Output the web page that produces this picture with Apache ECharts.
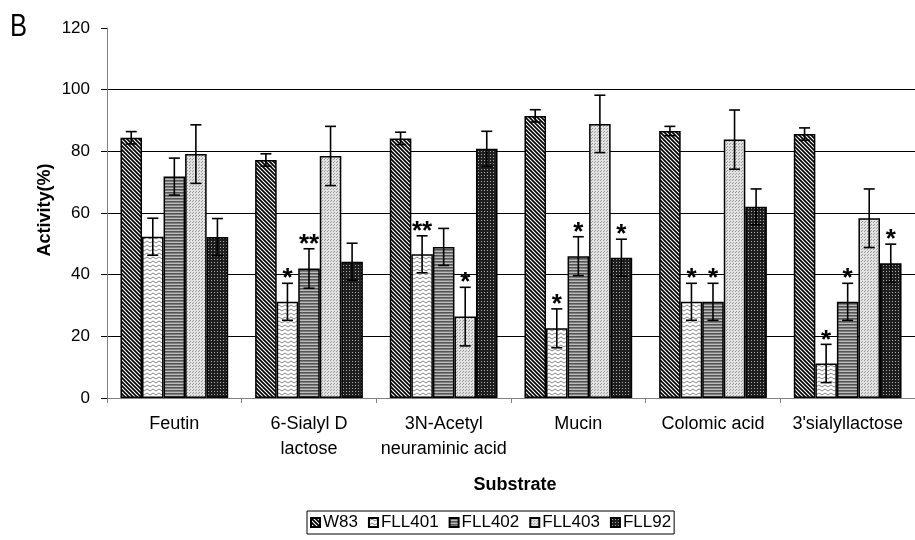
<!DOCTYPE html>
<html><head><meta charset="utf-8">
<script src="https://cdn.jsdelivr.net/npm/echarts@6/dist/echarts.min.js"></script>
<style>html,body{margin:0;padding:0;background:#fff}#c{width:915px;height:540px}</style>
</head><body><div id="c"></div>
<script>
const categories = ['Feutin', '6-Sialyl D\nlactose', '3N-Acetyl\nneuraminic acid', 'Mucin', 'Colomic acid', "3'sialyllactose"];
const seriesNames = ['W83', 'FLL401', 'FLL402', 'FLL403', 'FLL92'];
const W83 = [84.4, 77.2, 84.2, 91.5, 86.6, 85.6];
const FLL401 = [52.3, 31.2, 46.6, 22.6, 31.2, 11.2];
const FLL402 = [71.8, 42.0, 49.0, 46.0, 31.2, 31.2];
const FLL403 = [79.1, 78.5, 26.4, 88.9, 83.8, 58.3];
const FLL92 = [52.2, 44.2, 80.8, 45.5, 62.0, 43.7];
const errW83 = [2, 2, 2, 2, 1.5, 2];
const errFLL401 = [6, 6, 6, 6.3, 6, 6.2];
const errFLL402 = [6, 6.4, 6, 6.3, 6, 6];
const errFLL403 = [9.5, 9.6, 9.5, 9.3, 9.6, 9.5];
const errFLL92 = [6, 6, 5.7, 6, 5.8, 6.2];
const starW83 = ['', '', '', '', '', ''];
const starFLL401 = ['', '*', '**', '*', '*', '*'];
const starFLL402 = ['', '**', '', '*', '*', '*'];
const starFLL403 = ['', '', '*', '', '', ''];
const starFLL92 = ['', '', '', '*', '', '*'];
const yTicks = [0, 20, 40, 60, 80, 100, 120];

const values = [W83, FLL401, FLL402, FLL403, FLL92];
const errs = [errW83, errFLL401, errFLL402, errFLL403, errFLL92];
const stars = [starW83, starFLL401, starFLL402, starFLL403, starFLL92];

function mk(w, h, draw) {
  const c = document.createElement('canvas'); c.width = w; c.height = h;
  const g = c.getContext('2d'); draw(g); return c;
}
const patterns = [
  mk(4, 4, g => { g.fillStyle = '#fff'; g.fillRect(0,0,4,4); g.strokeStyle = '#000'; g.lineWidth = 1.7;
    g.beginPath(); g.moveTo(-1,-1); g.lineTo(5,5); g.moveTo(-1,3); g.lineTo(1,5); g.moveTo(3,-1); g.lineTo(5,1); g.stroke(); }),
  mk(6, 4, g => { g.fillStyle = '#fff'; g.fillRect(0,0,6,4); g.strokeStyle = '#888'; g.lineWidth = 1;
    g.beginPath(); g.moveTo(0,3); g.lineTo(3,1); g.lineTo(6,3); g.stroke(); }),
  mk(4, 3, g => { g.fillStyle = '#bdbdbd'; g.fillRect(0,0,4,3); g.fillStyle = '#555'; g.fillRect(0,0,4,1.6); }),
  mk(3, 3, g => { g.fillStyle = '#e2e2e2'; g.fillRect(0,0,3,3); g.fillStyle = '#999'; g.fillRect(0,0,1,1); g.fillRect(1,2,1,1); }),
  mk(3, 3, g => { g.fillStyle = '#1e1e1e'; g.fillRect(0,0,3,3); g.fillStyle = '#aaa'; g.fillRect(1,1,1,1); })
];

const chart = echarts.init(document.getElementById('c'), null, {renderer: 'canvas'});
const FONT = '"Liberation Sans", Arial, sans-serif';

const barSeries = seriesNames.map((n, s) => ({
  name: n, type: 'bar', data: values[s], barGap: 0, barCategoryGap: '20%',
  itemStyle: { color: { image: patterns[s], repeat: 'repeat' }, borderColor: '#000', borderWidth: 1.5 },
  emphasis: { disabled: true }, z: 2
}));

const errSeries = seriesNames.map((n, s) => ({
  name: 'err_' + n, type: 'custom', z: 5,
  data: values[s].map((v, i) => [i, v, errs[s][i]]),
  encode: { x: 0, y: 1 },
  renderItem: function (params, api) {
    const i = api.value(0), v = api.value(1), e = api.value(2);
    const c = api.coord([i, v]);
    const band = api.size([1, 0])[0];
    const bw = band * 0.8 / 5;
    const x = c[0] + (s - 2) * bw;
    const yt = api.coord([i, v + e])[1];
    const yb = api.coord([i, v - e])[1];
    const cap = 5.5;
    const st = { stroke: '#000', lineWidth: 1.6 };
    const children = [
      { type: 'line', shape: { x1: x, y1: yt, x2: x, y2: yb }, style: st },
      { type: 'line', shape: { x1: x - cap, y1: yt, x2: x + cap, y2: yt }, style: st },
      { type: 'line', shape: { x1: x - cap, y1: yb, x2: x + cap, y2: yb }, style: st }
    ];
    const star = stars[s][params.dataIndex];
    if (star) {
      children.push({ type: 'text', style: { text: star, x: x, y: yt + 9, align: 'center', verticalAlign: 'bottom',
        font: 'bold 26px ' + FONT, fill: '#000' } });
    }
    return { type: 'group', children: children };
  }
}));

chart.setOption({
  animation: false,
  grid: { left: 107, right: -8, top: 28, bottom: 142, containLabel: false },
  xAxis: {
    type: 'category', data: categories,
    axisLine: { lineStyle: { color: '#808080', width: 1 } },
    axisTick: { show: true, length: 5, lineStyle: { color: '#808080' } },
    axisLabel: { color: '#000', fontSize: 18, fontFamily: FONT, margin: 14, lineHeight: 25, interval: 0 }
  },
  yAxis: {
    type: 'value', min: 0, max: 120, interval: 20,
    axisLine: { show: true, lineStyle: { color: '#808080', width: 1 } },
    axisTick: { show: true, length: 6, lineStyle: { color: '#000' } },
    axisLabel: { color: '#000', fontSize: 17, fontFamily: FONT, margin: 17 },
    splitLine: { show: true, showMaxLine: false, lineStyle: { color: '#000', width: 1 } }
  },
  legend: {
    data: seriesNames, left: 307, top: 511, orient: 'horizontal',
    borderColor: '#000', borderWidth: 1, padding: [3, 3, 3, 3], itemGap: 10,
    itemWidth: 9, itemHeight: 9, icon: 'rect',
    textStyle: { color: '#000', fontSize: 17, fontFamily: FONT, padding: [0, 0, 0, -2] }
  },
  graphic: [
    { type: 'text', left: 10, top: 11, style: { text: 'B', font: '32px ' + FONT, fill: '#000' }, scaleX: 0.8 },
    { type: 'text', x: 515, y: 485, style: { text: 'Substrate', font: 'bold 18px ' + FONT, fill: '#000', align: 'center', verticalAlign: 'middle' } },
    { type: 'text', x: 45, y: 210, rotation: Math.PI / 2, style: { text: 'Activity(%)', font: 'bold 18px ' + FONT, fill: '#000', align: 'center', verticalAlign: 'middle' } }
  ],
  series: barSeries.concat(errSeries)
});
</script></body></html>
